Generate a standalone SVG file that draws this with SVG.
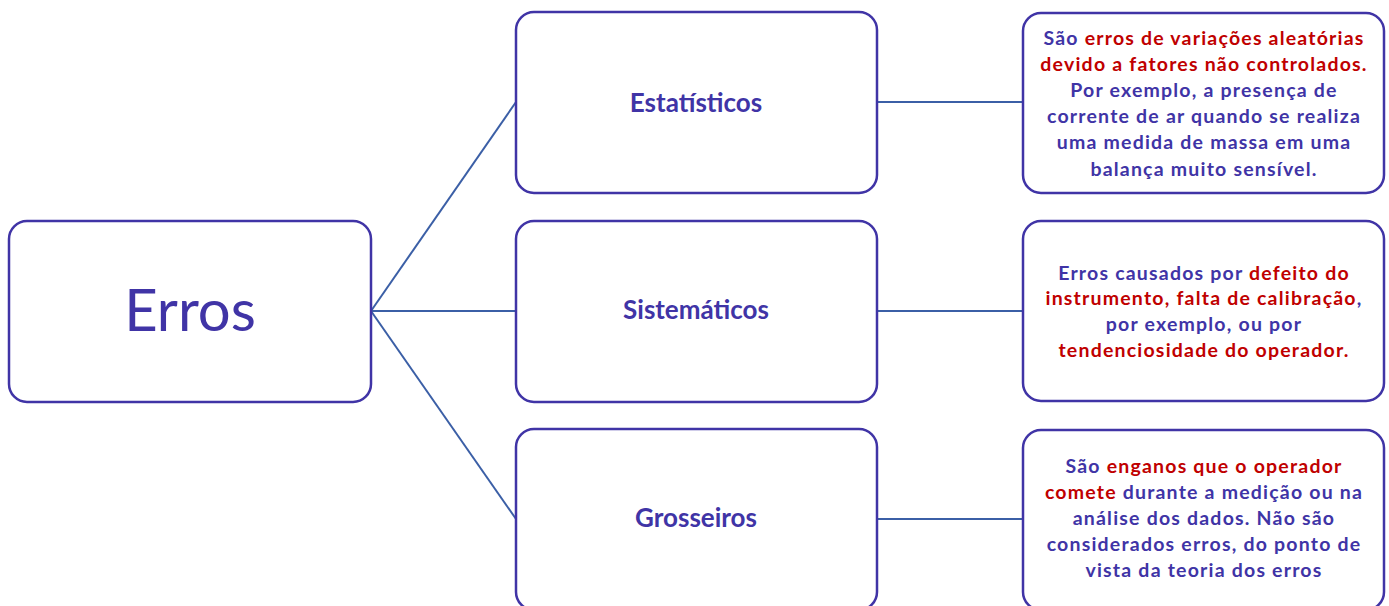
<svg xmlns="http://www.w3.org/2000/svg" width="1389" height="606" viewBox="0 0 1389 606">
<style>
.box{fill:#fff;stroke:#4034a6;stroke-width:2.5}
.con{stroke:#3b5fa6;stroke-width:2;fill:none}
.lbl{font-family:Lato,"Open Sans",sans-serif;font-weight:bold;font-size:26px;fill:#4034a6;text-anchor:middle}
.root{font-family:Lato,"Open Sans",sans-serif;font-size:58px;fill:#4034a6;text-anchor:middle}
.desc{font-family:Lato,"Open Sans",sans-serif;font-weight:bold;font-size:19.5px;letter-spacing:1.2px;fill:#4034a6;text-anchor:middle}
.r{fill:#c00000}
</style>
<rect width="1389" height="606" fill="#fff"/>
<g id="connectors">
<line class="con" x1="371" y1="311" x2="516" y2="102"/>
<line class="con" x1="371" y1="311" x2="516" y2="311"/>
<line class="con" x1="371" y1="311" x2="516" y2="519"/>
<line class="con" x1="877" y1="102" x2="1023" y2="102"/>
<line class="con" x1="877" y1="311" x2="1023" y2="311"/>
<line class="con" x1="877" y1="519" x2="1023" y2="519"/>
</g>
<g id="erros">
<rect class="box" x="9" y="221" width="362" height="181" rx="18"/>
<text class="root" x="190" y="331">Erros</text>
</g>
<g id="estatisticos">
<rect class="box" x="516" y="12" width="361" height="181" rx="18"/>
<text class="lbl" x="696" y="112">Estatísticos</text>
</g>
<g id="sistematicos">
<rect class="box" x="516" y="221" width="361" height="181" rx="18"/>
<text class="lbl" x="696" y="319">Sistemáticos</text>
</g>
<g id="grosseiros">
<rect class="box" x="516" y="429" width="361" height="181" rx="18"/>
<text class="lbl" x="696" y="527">Grosseiros</text>
</g>
<g id="desc-estatisticos">
<rect class="box" x="1023" y="13" width="361" height="180" rx="18"/>
<text class="desc" x="1204" y="45">São <tspan class="r">erros de variações aleatórias</tspan></text>
<text class="desc r" x="1204" y="71">devido a fatores não controlados.</text>
<text class="desc" x="1204" y="97">Por exemplo, a presença de</text>
<text class="desc" x="1204" y="123">corrente de ar quando se realiza</text>
<text class="desc" x="1204" y="149">uma medida de massa em uma</text>
<text class="desc" x="1204" y="175.5">balança muito sensível.</text>
</g>
<g id="desc-sistematicos">
<rect class="box" x="1023" y="221" width="361" height="180" rx="18"/>
<text class="desc" x="1204" y="280">Erros causados por <tspan class="r">defeito do</tspan></text>
<text class="desc" x="1204" y="305"><tspan class="r">instrumento,  falta de calibração</tspan>,</text>
<text class="desc" x="1204" y="331">por exemplo, ou por</text>
<text class="desc r" x="1204" y="357">tendenciosidade  do operador.</text>
</g>
<g id="desc-grosseiros">
<rect class="box" x="1023" y="430" width="361" height="180" rx="18"/>
<text class="desc" x="1204" y="473">São <tspan class="r">enganos que o operador</tspan></text>
<text class="desc" x="1204" y="499"><tspan class="r">comete</tspan> durante a medição ou na</text>
<text class="desc" x="1204" y="525">análise dos dados. Não são</text>
<text class="desc" x="1204" y="551">considerados erros, do ponto de</text>
<text class="desc" x="1204" y="577">vista da teoria dos erros</text>
</g>
</svg>
